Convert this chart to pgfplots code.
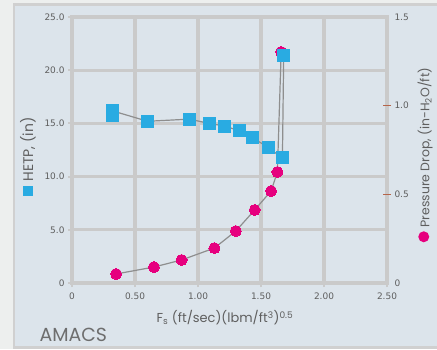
\documentclass[border=0pt]{standalone}
\usepackage{fontspec}
\setmainfont{Poppins}
\newfontfamily\tickfont{DejaVu Sans}
\usepackage{pgfplots}
\pgfplotsset{compat=1.18}
\definecolor{outerbg}{HTML}{EDEFEE}
\definecolor{panel}{HTML}{DCE4EB}
\definecolor{border}{HTML}{D0D0D0}
\definecolor{gridc}{HTML}{CACACA}
\definecolor{txt}{HTML}{5E5E5E}
\definecolor{hetp}{HTML}{29ABE2}
\definecolor{pd}{HTML}{E6007E}
\definecolor{rust}{HTML}{B5654A}
\definecolor{linec}{HTML}{8E8E8E}

\pgfplotsset{
  base/.style={
    at={(72bp,66bp)}, anchor=south west,
    scale only axis, width=315bp, height=266bp,
    xmin=0, xmax=2.5,
    clip=false,
  },
}

\begin{document}
\begin{tikzpicture}[x=1bp,y=1bp]
\useasboundingbox (0,0) rectangle (437,349);
\fill[outerbg] (0,0) rectangle (437,349);
\fill[panel, draw=border, line width=2.5bp] (14,1.5) rectangle (450,344.5);

% grid axis (left scale)
\begin{axis}[base,
  ymin=0, ymax=25,
  xtick={0,0.5,1,1.5,2,2.5},
  xticklabels={0,0.50,1.00,1.50,2.00,2.50},
  ytick={0,5,10,15,20,25},
  yticklabels={0,5.0,10.0,15.0,20.0,25.0},
  grid=major,
  grid style={gridc, line width=3.2bp},
  axis line style={gridc, line width=3.2bp},
  tick style={gridc, line width=2bp},
  tick align=outside, tick pos=left,
  major tick length=4bp,
  tick label style={font=\tickfont\fontsize{9}{9}\selectfont, text=txt},
  xticklabel style={yshift=-2bp},
]
\end{axis}

% right axis: pressure drop
\begin{axis}[base,
  ymin=0, ymax=1.5,
  axis x line=none,
  axis y line*=right,
  axis line style={draw=none},
  ytick={0.5,1},
  yticklabels={0.5,1.0},
  extra y ticks={0,1.5},
  extra y tick labels={0,1.5},
  extra y tick style={major tick length=0pt, yticklabel style={xshift=4bp}},
  ytick style={draw=rust, line width=1.2bp},
  tick align=center,
  major tick length=8bp,
  tick label style={font=\tickfont\fontsize{9}{9}\selectfont, text=txt},
]
\addplot[linec, line width=1.2bp, mark=*, mark size=5.5bp,
  mark options={solid, draw=pd, fill=pd, line width=0pt}] coordinates {
  (0.35,0.051) (0.65,0.090) (0.87,0.130) (1.13,0.197) (1.30,0.293)
  (1.45,0.412) (1.58,0.519) (1.63,0.626) (1.66,1.303)
};
\end{axis}

% left axis: HETP squares
\begin{axis}[base,
  ymin=0, ymax=25,
  hide axis,
]
\addplot[linec, line width=1.2bp, mark=square*, mark size=6bp,
  mark options={solid, draw=hetp, fill=hetp, line width=0pt}] coordinates {
  (0.323,15.7) (0.323,16.17) (0.60,15.2) (0.93,15.4) (1.09,15.0)
  (1.21,14.75) (1.33,14.3) (1.43,13.7) (1.56,12.7) (1.67,11.75) (1.68,21.4)
};
\end{axis}

% labels
\node[text=txt, font=\fontsize{13}{13}\selectfont] at (225,31)
  {F\textsubscript{s} (ft/sec)(lbm/ft\textsuperscript{3})\textsuperscript{0.5}};
\node[text=txt!90, font=\fontsize{19}{19}\selectfont, anchor=west] at (36,14) {AMACS};
\node[text=txt, font=\fontsize{14}{14}\selectfont, rotate=90] at (28,192)
  {{\color{hetp}\rule{10bp}{10bp}}\hspace{5bp}HETP, (in)};
\node[text=txt, font=\fontsize{12.5}{12.5}\selectfont, rotate=90] at (425,194)
  {{\color{pd}\tikz\fill (0,0) circle (5.5bp);}\hspace{4bp}Pressure Drop, (in-H\textsubscript{2}O/ft)};
\end{tikzpicture}
\end{document}
